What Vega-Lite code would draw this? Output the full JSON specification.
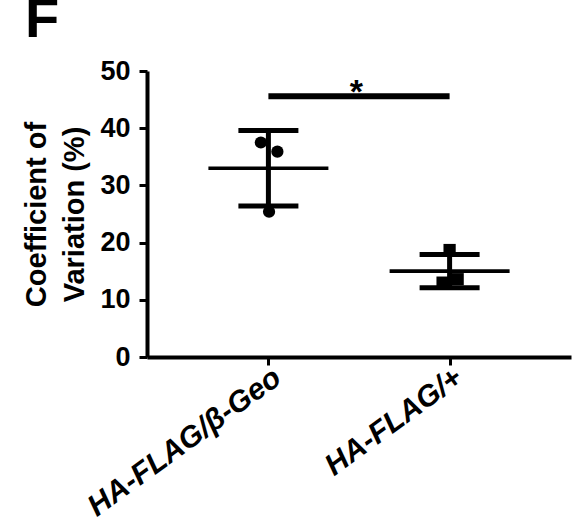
{
  "$schema": "https://vega.github.io/schema/vega-lite/v6.json",
  "width": 424,
  "height": 286,
  "padding": {"left": 22, "top": -8, "right": 5, "bottom": 5},
  "background": "white",
  "title": {"text": "F", "anchor": "start", "frame": "bounds", "fontSize": 56, "font": "Liberation Sans", "fontWeight": "bold", "color": "black", "offset": 8, "dx": 2},
  "config": {
    "view": {"stroke": null},
    "font": "Liberation Sans"
  },
  "datasets": {
    "points": [
      {"group": "HA-FLAG/β-Geo", "cv": 37.5, "jitter": -0.58},
      {"group": "HA-FLAG/β-Geo", "cv": 35.9, "jitter": 0.69},
      {"group": "HA-FLAG/β-Geo", "cv": 25.4, "jitter": 0.05},
      {"group": "HA-FLAG/+", "cv": 18.7, "jitter": 0.0},
      {"group": "HA-FLAG/+", "cv": 13.0, "jitter": -0.54},
      {"group": "HA-FLAG/+", "cv": 13.6, "jitter": 0.62}
    ],
    "summary": [
      {"group": "HA-FLAG/β-Geo", "mean": 33.0, "lo": 26.4, "hi": 39.6},
      {"group": "HA-FLAG/+", "mean": 15.0, "lo": 12.1, "hi": 17.9}
    ],
    "sig": [
      {"from": "HA-FLAG/β-Geo", "to": "HA-FLAG/+", "y": 45.6, "label": "*"}
    ]
  },
  "encoding": {
    "x": {
      "field": "group", "type": "nominal",
      "scale": {"type": "point", "domain": ["HA-FLAG/β-Geo", "HA-FLAG/+"], "padding": 0.67},
      "axis": {
        "title": null,
        "domainColor": "black", "domainWidth": 4,
        "tickColor": "black", "tickWidth": 3, "tickSize": 8,
        "labelAngle": -36, "labelFontSize": 30, "labelFontWeight": "bold", "labelFontStyle": "italic",
        "labelColor": "black", "labelPadding": -3, "labelLimit": 0
      }
    }
  },
  "layer": [
    {
      "data": {"name": "summary"},
      "mark": {"type": "rule", "color": "black", "strokeWidth": 5},
      "encoding": {
        "y": {
          "field": "lo", "type": "quantitative",
          "scale": {"domain": [0, 50], "nice": false},
          "axis": {
            "title": ["Coefficient of", "Variation (%)"],
            "titleFontSize": 29, "titleFontWeight": "bold", "titleColor": "black",
            "titleLineHeight": 38, "titlePadding": 10,
            "values": [0, 10, 20, 30, 40, 50],
            "grid": false,
            "domainColor": "black", "domainWidth": 4,
            "tickColor": "black", "tickWidth": 3, "tickSize": 8,
            "labelFontSize": 27, "labelFontWeight": "bold", "labelColor": "black", "labelPadding": 9
          }
        },
        "y2": {"field": "hi"}
      }
    },
    {
      "data": {"name": "summary"},
      "mark": {"type": "tick", "color": "black", "size": 120, "thickness": 3.7, "opacity": 1},
      "encoding": {"y": {"field": "mean", "type": "quantitative"}}
    },
    {
      "data": {"name": "summary"},
      "mark": {"type": "tick", "color": "black", "size": 60, "thickness": 5, "opacity": 1},
      "encoding": {"y": {"field": "lo", "type": "quantitative"}}
    },
    {
      "data": {"name": "summary"},
      "mark": {"type": "tick", "color": "black", "size": 60, "thickness": 5, "opacity": 1},
      "encoding": {"y": {"field": "hi", "type": "quantitative"}}
    },
    {
      "data": {"name": "points"},
      "mark": {"type": "point", "filled": true, "color": "black", "opacity": 1, "size": 150},
      "encoding": {
        "y": {"field": "cv", "type": "quantitative"},
        "xOffset": {"field": "jitter", "type": "quantitative", "scale": {"domain": [-1, 1], "range": [-13, 13]}},
        "shape": {"field": "group", "type": "nominal", "scale": {"domain": ["HA-FLAG/β-Geo", "HA-FLAG/+"], "range": ["circle", "square"]}, "legend": null}
      }
    },
    {
      "data": {"name": "sig"},
      "mark": {"type": "rule", "color": "black", "strokeWidth": 6},
      "encoding": {
        "x": {"field": "from", "type": "nominal"},
        "x2": {"field": "to"},
        "y": {"field": "y", "type": "quantitative"}
      }
    },
    {
      "data": {"name": "sig"},
      "mark": {"type": "text", "color": "black", "fontSize": 34, "fontWeight": "bold", "dx": 88, "dy": 7, "baseline": "alphabetic", "align": "center"},
      "encoding": {
        "x": {"field": "from", "type": "nominal"},
        "y": {"field": "y", "type": "quantitative"},
        "text": {"field": "label"}
      }
    }
  ]
}
